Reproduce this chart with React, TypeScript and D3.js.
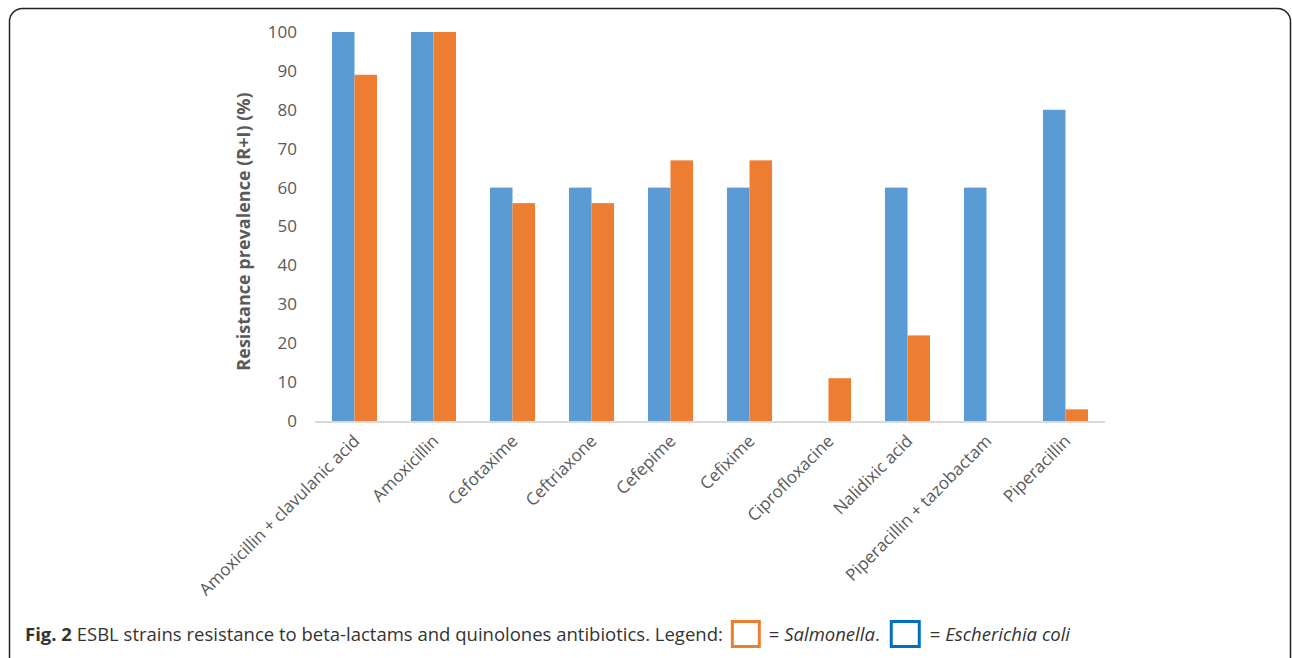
import { useEffect, useRef } from 'react';
import * as d3 from 'd3';

const antibiotics = [
  'Amoxicillin + clavulanic acid',
  'Amoxicillin',
  'Cefotaxime',
  'Ceftriaxone',
  'Cefepime',
  'Cefixime',
  'Ciprofloxacine',
  'Nalidixic acid',
  'Piperacillin + tazobactam',
  'Piperacillin',
];
const ecoliValues = [100, 100, 60, 60, 60, 60, 0, 60, 60, 80];
const salmonellaValues = [89, 100, 56, 56, 67, 67, 11, 22, 0, 3];
const yTicks = [0, 10, 20, 30, 40, 50, 60, 70, 80, 90, 100];

const BLUE = '#5b9bd5';
const ORANGE = '#ed7d31';
const FONT = '"Open Sans", "Noto Sans", sans-serif';

export default function App() {
  const svgRef = useRef<SVGSVGElement>(null);

  useEffect(() => {
    if (!svgRef.current) return;
    const svg = d3.select(svgRef.current);
    svg.selectAll('*').remove();

    const left = 315;
    const right = 1105;
    const top = 32;
    const bottom = 421;

    // frame, bottom edge runs off the page
    svg
      .append('rect')
      .attr('x', 9.5)
      .attr('y', 8.5)
      .attr('width', 1281)
      .attr('height', 670)
      .attr('rx', 13)
      .attr('fill', 'none')
      .attr('stroke', '#222')
      .attr('stroke-width', 1.5);

    const y = d3.scaleLinear().domain([0, 100]).range([bottom, top]);
    const x = d3
      .scaleBand()
      .domain(antibiotics)
      .range([left, right])
      .paddingInner(0.43)
      .paddingOuter(0.215);
    const bw = x.bandwidth() / 2;

    const g = svg.append('g');

    // y tick labels
    g.selectAll('text.ytick')
      .data(yTicks)
      .join('text')
      .attr('class', 'ytick')
      .attr('x', 297)
      .attr('y', (d) => y(d))
      .attr('dy', '0.35em')
      .attr('text-anchor', 'end')
      .attr('font-family', FONT)
      .attr('font-size', 17)
      .attr('fill', '#595959')
      .text((d) => d);

    g.append('text')
      .attr('transform', `translate(250,${(top + bottom) / 2 + 5}) rotate(-90)`)
      .attr('text-anchor', 'middle')
      .attr('font-family', FONT)
      .attr('font-size', 18)
      .attr('font-weight', 'bold')
      .attr('fill', '#595959')
      .text('Resistance prevalence (R+I) (%)');

    // bars
    g.selectAll('rect.ecoli')
      .data(antibiotics)
      .join('rect')
      .attr('class', 'ecoli')
      .attr('x', (d) => x(d)!)
      .attr('width', bw)
      .attr('y', (_, i) => y(ecoliValues[i]))
      .attr('height', (_, i) => bottom - y(ecoliValues[i]))
      .attr('fill', BLUE);

    g.selectAll('rect.salm')
      .data(antibiotics)
      .join('rect')
      .attr('class', 'salm')
      .attr('x', (d) => x(d)! + bw)
      .attr('width', bw)
      .attr('y', (_, i) => y(salmonellaValues[i]))
      .attr('height', (_, i) => bottom - y(salmonellaValues[i]))
      .attr('fill', ORANGE);

    // baseline
    g.append('line')
      .attr('x1', left)
      .attr('x2', right)
      .attr('y1', bottom + 1)
      .attr('y2', bottom + 1)
      .attr('stroke', '#d9d9d9')
      .attr('stroke-width', 2);

    // category labels
    g.selectAll('text.xtick')
      .data(antibiotics)
      .join('text')
      .attr('class', 'xtick')
      .attr(
        'transform',
        (d) => `translate(${x(d)! + x.bandwidth() / 2 + 2},${bottom + 17}) rotate(-45)`
      )
      .attr('text-anchor', 'end')
      .attr('dy', '0.35em')
      .attr('font-family', FONT)
      .attr('font-size', 17)
      .attr('fill', '#595959')
      .text((d) => d);

    // caption with legend
    const capSize = 18.5;
    const cap = svg
      .append('text')
      .attr('x', 25)
      .attr('y', 641)
      .attr('font-family', FONT)
      .attr('font-size', capSize)
      .attr('fill', '#333');
    cap.append('tspan').attr('font-weight', 'bold').text('Fig. 2');
    cap
      .append('tspan')
      .text(' ESBL strains resistance to beta-lactams and quinolones antibiotics. Legend:');

    const capEnd = (cap.node() as SVGTextElement).getComputedTextLength() + 25;
    const boxX1 = capEnd + 8;
    svg
      .append('rect')
      .attr('x', boxX1 + 1.5)
      .attr('y', 621.5)
      .attr('width', 27)
      .attr('height', 25)
      .attr('fill', 'white')
      .attr('stroke', ORANGE)
      .attr('stroke-width', 3);

    const t2 = svg
      .append('text')
      .attr('x', boxX1 + 38)
      .attr('y', 641)
      .attr('font-family', FONT)
      .attr('font-size', capSize)
      .attr('fill', '#333');
    t2.append('tspan').text('= ');
    t2.append('tspan').attr('font-style', 'italic').text('Salmonella');
    t2.append('tspan').text('.');

    const boxX2 = boxX1 + 38 + (t2.node() as SVGTextElement).getComputedTextLength() + 10;
    svg
      .append('rect')
      .attr('x', boxX2 + 1.5)
      .attr('y', 621.5)
      .attr('width', 28)
      .attr('height', 25)
      .attr('fill', 'white')
      .attr('stroke', '#0070c0')
      .attr('stroke-width', 3);

    const t3 = svg
      .append('text')
      .attr('x', boxX2 + 40)
      .attr('y', 641)
      .attr('font-family', FONT)
      .attr('font-size', capSize)
      .attr('fill', '#333');
    t3.append('tspan').text('= ');
    t3.append('tspan').attr('font-style', 'italic').text('Escherichia coli');
  }, []);

  return (
    <svg
      ref={svgRef}
      width={1292}
      height={658}
      style={{ position: 'absolute', left: 0, top: 0, background: 'white' }}
    />
  );
}
